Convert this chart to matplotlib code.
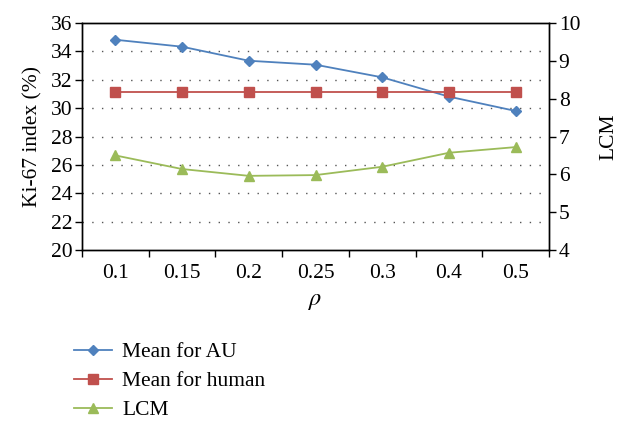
import matplotlib
matplotlib.use("Agg")
import matplotlib.pyplot as plt
import numpy as np

categories = ["0.1", "0.15", "0.2", "0.25", "0.3", "0.4", "0.5"]
mean_au = [34.82, 34.33, 33.34, 33.06, 32.17, 30.81, 29.80]
mean_human = [31.12, 31.12, 31.12, 31.12, 31.12, 31.12, 31.12]
lcm = [6.50, 6.14, 5.96, 5.98, 6.20, 6.57, 6.72]
left_ticks = [20, 22, 24, 26, 28, 30, 32, 34, 36]
right_ticks = [4, 5, 6, 7, 8, 9, 10]

plt.rcParams['font.family'] = ['Liberation Serif', 'DejaVu Serif']
plt.rcParams['mathtext.fontset'] = 'stix'
fs = 15.5

fig = plt.figure(figsize=(6.24, 4.28), dpi=100)
ax = fig.add_axes([82/624, 1-250/428, (549-82)/624, (250-23)/428])
ax2 = ax.twinx()

x = np.arange(len(categories))
blue, red, green = "#4F81BD", "#C0504D", "#9BBB59"
l1, = ax.plot(x, mean_au, color=blue, marker="D", markersize=5, lw=1.3, label="Mean for AU")
l2, = ax.plot(x, mean_human, color=red, marker="s", markersize=6.5, lw=1.3, label="Mean for human")
l3, = ax2.plot(x, lcm, color=green, marker="^", markersize=7, lw=1.3, label="LCM")

ax.set_xlim(-0.5, len(categories) - 0.5)
ax.set_ylim(20, 36)
ax2.set_ylim(4, 10)
ax.set_yticks(left_ticks)
ax.set_yticklabels([str(t) for t in left_ticks], fontsize=fs)
ax2.set_yticks(right_ticks)
ax2.set_yticklabels([str(t) for t in right_ticks], fontsize=fs)
ax.set_xticks(x)
ax.set_xticklabels(categories, fontsize=fs)
ax.tick_params(axis="x", which="major", length=0, pad=10)
ax.set_xticks(np.arange(-0.5, len(categories)), minor=True)
ax.tick_params(axis="x", which="minor", length=5, direction="out", width=1)
ax.tick_params(axis="y", length=5, direction="out", width=1, pad=2)
ax2.tick_params(axis="y", length=5, direction="out", width=1, pad=2)

for t in left_ticks[1:-1]:
    ax.axhline(t, color="#555555", lw=1.0, ls=(0, (1, 6)), zorder=0)

for a in (ax, ax2):
    for s in a.spines.values():
        s.set_linewidth(1.0)
        s.set_color("black")

ax.set_ylabel("Ki-67 index (%)", fontsize=fs, labelpad=6)
ax2.set_ylabel("LCM", fontsize=fs, labelpad=14)
ax.set_xlabel(r"$\rho$", fontsize=fs + 2, labelpad=6)

fig.legend(handles=[l1, l2, l3], loc="upper left",
           bbox_to_anchor=(74/624, 1-342/428), frameon=False, fontsize=fs,
           handlelength=1.75, handletextpad=0.5, labelspacing=0.42,
           borderpad=0, borderaxespad=0)

fig.savefig("out.png", dpi=100)
